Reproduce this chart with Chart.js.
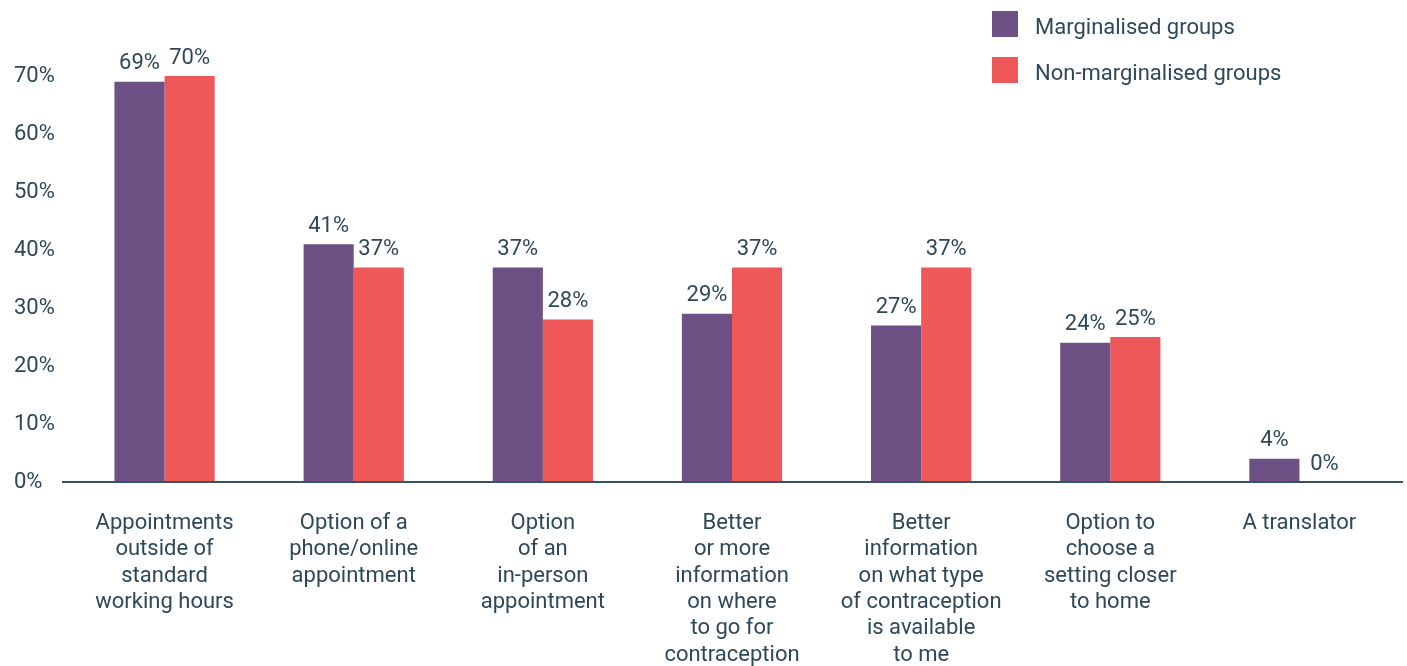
<!DOCTYPE html>
<html>
<head>
<meta charset="utf-8">
<script src="https://cdn.jsdelivr.net/npm/chart.js@4.4.1/dist/chart.umd.min.js"></script>
<style>
  body { margin: 0; background: #fff; font-family: Roboto, sans-serif; }
  #wrap { position: relative; width: 1407px; height: 666px; }
  #legend { position: absolute; left: 992px; top: 11px; color: #2f4858; font-size: 22px; }
  .item { display: flex; align-items: center; height: 26px; margin-bottom: 20px; }
  .item span { position: relative; top: 2px; }
  .box { width: 26px; height: 26px; margin-right: 17px; }
</style>
</head>
<body>
<div id="wrap">
  <canvas id="grafica" width="1407" height="666"></canvas>
  <div id="legend"></div>
</div>
<script>
const categorias = [
  ["Appointments", "outside of", "standard", "working hours"],
  ["Option of a", "phone/online", "appointment"],
  ["Option", "of an", "in-person", "appointment"],
  ["Better", "or more", "information", "on where", "to go for", "contraception"],
  ["Better", "information", "on what type", "of contraception", "is available", "to me"],
  ["Option to", "choose a", "setting closer", "to home"],
  ["A translator"],
];
const marginalised = [69, 41, 37, 29, 27, 24, 4];
const nonMarginalised = [70, 37, 28, 37, 37, 25, 0];
const nombresSeries = ["Marginalised groups", "Non-marginalised groups"];
const colores = ["#6e5184", "#ef5859"];

const textColor = "#2f4858";
const fuente = "Roboto, sans-serif";

// leyenda en html, arriba a la derecha
const legend = document.getElementById("legend");
nombresSeries.forEach((nombre, i) => {
  const item = document.createElement("div");
  item.className = "item";
  item.innerHTML = `<div class="box" style="background:${colores[i]}"></div><span>${nombre}</span>`;
  legend.appendChild(item);
});

// etiquetas de valor encima de cada barra + linea del eje x
const etiquetasPlugin = {
  id: "etiquetas",
  afterDatasetsDraw(chart) {
    const ctx = chart.ctx;
    ctx.save();
    ctx.fillStyle = textColor;
    ctx.font = `22px ${fuente}`;
    ctx.textAlign = "center";
    ctx.textBaseline = "bottom";
    chart.data.datasets.forEach((ds, i) => {
      chart.getDatasetMeta(i).data.forEach((bar, j) => {
        ctx.fillText(ds.data[j] + "%", bar.x, bar.y - 7);
      });
    });
    const y0 = chart.scales.y.getPixelForValue(0);
    ctx.strokeStyle = "#3a5262";
    ctx.lineWidth = 2;
    ctx.beginPath();
    ctx.moveTo(62, y0);
    ctx.lineTo(1403, y0);
    ctx.stroke();
    ctx.restore();
  },
};

new Chart(document.getElementById("grafica"), {
  type: "bar",
  data: {
    labels: categorias,
    datasets: [
      { label: nombresSeries[0], data: marginalised, backgroundColor: colores[0] },
      { label: nombresSeries[1], data: nonMarginalised, backgroundColor: colores[1] },
    ],
  },
  options: {
    responsive: false,
    animation: false,
    layout: { padding: { left: 14, right: 13, top: 76, bottom: 0 } },
    categoryPercentage: 0.53,
    barPercentage: 1,
    plugins: { legend: { display: false }, tooltip: { enabled: false } },
    scales: {
      x: {
        grid: { display: false, drawTicks: false },
        border: { display: false },
        afterFit: (scale) => { scale.height = 184; },
        ticks: {
          color: textColor,
          padding: 28,
          maxRotation: 0,
          autoSkip: false,
          font: { family: fuente, size: 22, lineHeight: 1.2 },
        },
      },
      y: {
        min: 0,
        max: 70,
        grid: { display: false, drawTicks: false },
        border: { display: false },
        afterFit: (scale) => { scale.width = 56; },
        ticks: {
          stepSize: 10,
          crossAlign: "far",
          color: textColor,
          font: { family: fuente, size: 22 },
          callback: (v) => v + "%",
        },
      },
    },
  },
  plugins: [etiquetasPlugin],
});
</script>
</body>
</html>
